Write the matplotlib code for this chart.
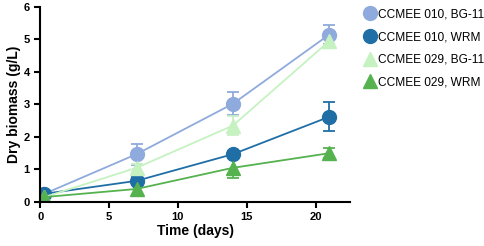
import matplotlib
matplotlib.use("Agg")
import matplotlib.pyplot as plt
from matplotlib.lines import Line2D

plt.rcParams['font.family'] = ['Liberation Sans', 'DejaVu Sans']

time = [0.3, 7, 14, 21]
labels = ["CCMEE 010, BG-11", "CCMEE 010, WRM", "CCMEE 029, BG-11", "CCMEE 029, WRM"]
s010_bg = [0.25, 1.47, 3.02, 5.15]
e010_bg = [0.05, 0.32, 0.35, 0.3]
s010_wrm = [0.25, 0.65, 1.47, 2.62]
e010_wrm = [0.05, 0.12, 0.1, 0.45]
s029_bg = [0.15, 1.05, 2.35, 4.95]
e029_bg = [0.05, 0.12, 0.3, 0.12]
s029_wrm = [0.15, 0.4, 1.05, 1.5]
e029_wrm = [0.05, 0.2, 0.3, 0.15]

series = [
    (s010_bg, e010_bg, '#8FAADC', 'o'),
    (s010_wrm, e010_wrm, '#1F6FA6', 'o'),
    (s029_bg, e029_bg, '#C6F2C2', '^'),
    (s029_wrm, e029_wrm, '#55B24F', '^'),
]

fig = plt.figure(figsize=(4.84, 2.46), dpi=100)
ax = fig.add_axes([0.083, 0.179, 0.64, 0.793])

for (y, e, c, m), lab in zip(series, labels):
    ax.errorbar(time, y, yerr=e, color=c, marker=m, markersize=10, lw=1.3,
                capsize=4, elinewidth=1.3, capthick=1.3, label=lab)

ax.set_xlim(0, 22.5)
ax.set_ylim(0, 6)
ax.set_xticks([0, 5, 10, 15, 20])
ax.set_yticks([0, 1, 2, 3, 4, 5, 6])
for s in ['top', 'right']:
    ax.spines[s].set_visible(False)
for s in ['left', 'bottom']:
    ax.spines[s].set_linewidth(1.5)
ax.tick_params(width=1.5, length=4, labelsize=8)
for t in ax.get_xticklabels() + ax.get_yticklabels():
    t.set_fontweight('bold')
ax.set_xlabel('Time (days)', fontsize=10, fontweight='bold', labelpad=1)
ax.set_ylabel('Dry biomass (g/L)', fontsize=10, fontweight='bold', labelpad=2)

handles = [Line2D([], [], color=c, marker=m, linestyle='none', markersize=10)
           for (_, _, c, m) in series]
fig.legend(handles, labels, loc='upper left', bbox_to_anchor=(0.727, 1.01),
           frameon=False, fontsize=8.6, handletextpad=0.05, labelspacing=0.9,
           handlelength=1.2)

fig.savefig('out.png', dpi=100)
